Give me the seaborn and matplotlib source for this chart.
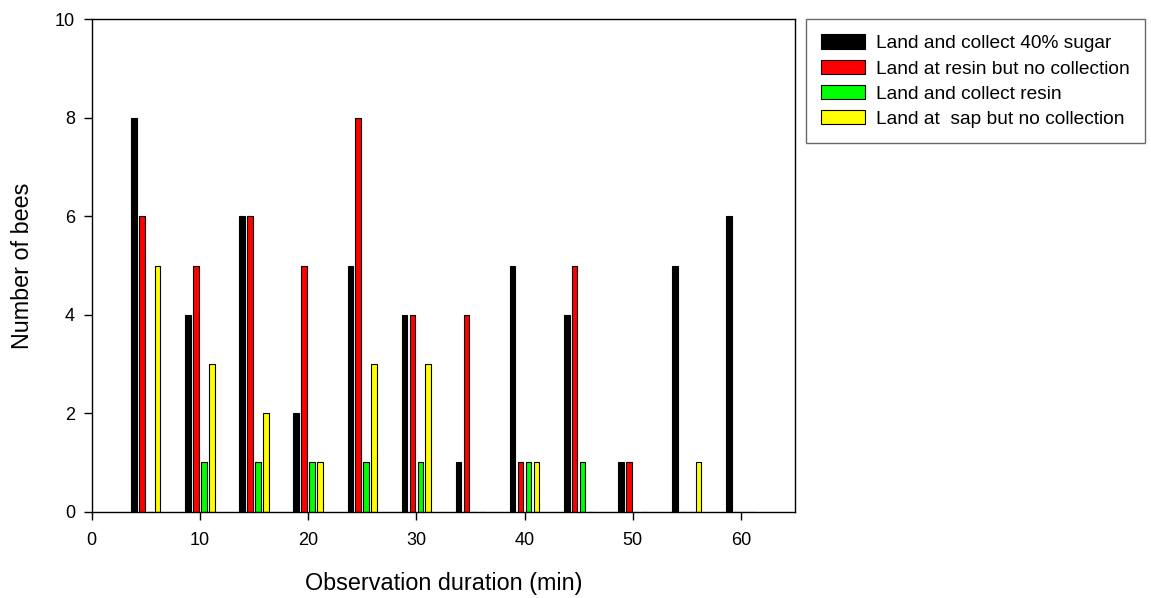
import pandas as pd
import seaborn as sns
import matplotlib
matplotlib.use('Agg')
import matplotlib.pyplot as plt

# observation times (min) and counts of bees per behaviour
times = [5, 10, 15, 20, 25, 30, 35, 40, 45, 50, 55, 60]
sugar = [8, 4, 6, 2, 5, 4, 1, 5, 4, 1, 5, 6]
resin_no_collect = [6, 5, 6, 5, 8, 4, 4, 1, 5, 1, 0, 0]
resin_collect = [0, 1, 1, 1, 1, 1, 0, 1, 1, 0, 0, 0]
sap_no_collect = [5, 3, 2, 1, 3, 3, 0, 1, 0, 0, 1, 0]

labels = ['Land and collect 40% sugar', 'Land at resin but no collection',
          'Land and collect resin', 'Land at  sap but no collection']
colors = ['#000000', '#ff0000', '#00ff00', '#ffff00']

rows = []
for lab, vals in zip(labels, [sugar, resin_no_collect, resin_collect, sap_no_collect]):
    for t, v in zip(times, vals):
        rows.append({'time': t, 'bees': v, 'behaviour': lab})
df = pd.DataFrame(rows)

sns.set_style('ticks')
plt.rcParams['font.family'] = ['Liberation Sans', 'DejaVu Sans']
plt.rcParams['text.color'] = 'black'
plt.rcParams['axes.labelcolor'] = 'black'

fig = plt.figure(figsize=(11.51, 5.98), dpi=100)
ax = fig.add_axes([0.0797, 0.1443, 0.611, 0.8234])

sns.barplot(data=df, x='time', y='bees', hue='behaviour', hue_order=labels,
            palette=colors, native_scale=True, width=0.585, gap=0.3,
            edgecolor='black', linewidth=0.8, saturation=1, ax=ax, legend=False)

ax.set_xlim(0, 65)
ax.set_ylim(0, 10)
ax.set_xticks(range(0, 61, 10))
ax.set_yticks(range(0, 11, 2))
for s in ax.spines.values():
    s.set_linewidth(1.0)
    s.set_color('black')
ax.tick_params(axis='both', direction='out', length=6, width=1, labelsize=13,
               colors='black', pad=6)
ax.tick_params(axis='x', pad=8.5)
ax.set_xlabel('Observation duration (min)', fontsize=16.8, labelpad=17)
ax.set_ylabel('Number of bees', fontsize=16.8, labelpad=15)

handles = [plt.Rectangle((0, 0), 1, 1, facecolor=c, edgecolor='black', linewidth=0.8) for c in colors]
leg = fig.legend(handles, labels, loc='upper left', bbox_to_anchor=(0.700, 0.968),
                 fontsize=13.8, frameon=True, fancybox=False, handlelength=2.3,
                 handleheight=0.78, labelspacing=0.38, borderpad=0.8,
                 handletextpad=0.58, borderaxespad=0)
leg.get_frame().set_edgecolor('#444444')
leg.get_frame().set_linewidth(1.0)

fig.savefig('out.png', dpi=100)
